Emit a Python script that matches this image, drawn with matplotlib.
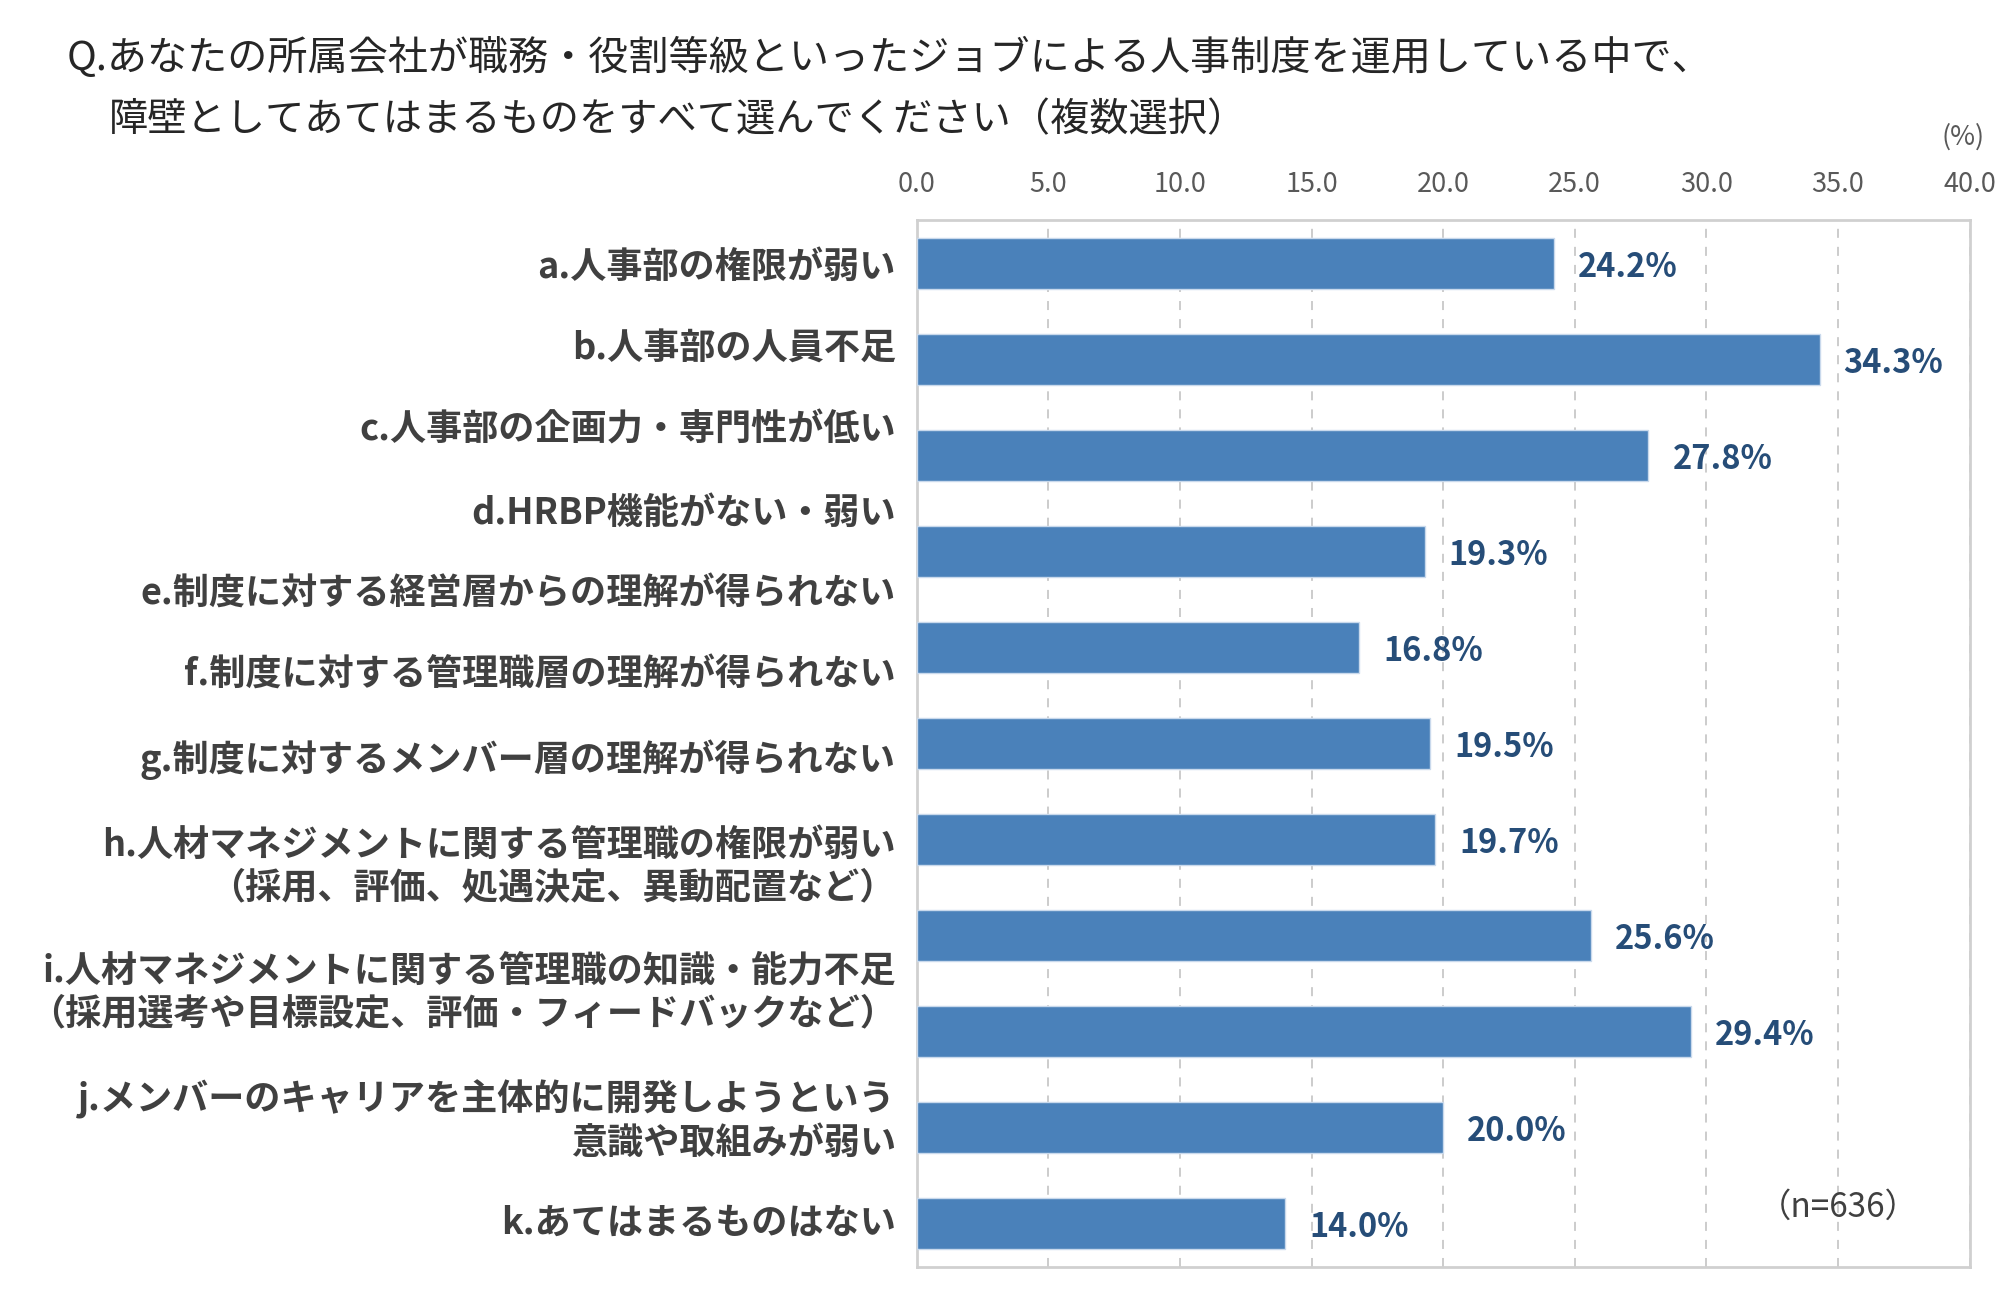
import matplotlib
matplotlib.use("Agg")
import matplotlib.pyplot as plt

plt.rcParams['font.family'] = ['Noto Sans CJK JP', 'DejaVu Sans']

# data
categories = [
    "a.人事部の権限が弱い",
    "b.人事部の人員不足",
    "c.人事部の企画力・専門性が低い",
    "d.HRBP機能がない・弱い",
    "e.制度に対する経営層からの理解が得られない",
    "f.制度に対する管理職層の理解が得られない",
    "g.制度に対するメンバー層の理解が得られない",
    "h.人材マネジメントに関する管理職の権限が弱い\n（採用、評価、処遇決定、異動配置など）",
    "i.人材マネジメントに関する管理職の知識・能力不足\n（採用選考や目標設定、評価・フィードバックなど）",
    "j.メンバーのキャリアを主体的に開発しようという\n意識や取組みが弱い",
    "k.あてはまるものはない",
]
values = [24.2, 34.3, 27.8, 19.3, 16.8, 19.5, 19.7, 25.6, 29.4, 20.0, 14.0]
# category labels in the source drift away from their bars
label_pos = [0.0, 0.85, 1.69, 2.56, 3.41, 4.25, 5.12, 6.21, 7.52, 8.86, 9.96]
xticks = [0, 5, 10, 15, 20, 25, 30, 35, 40]

bar_color = "#4a81ba"
value_color = "#264d78"
text_color = "#404040"

fig = plt.figure(figsize=(20.09, 13.13), dpi=100)
ax = fig.add_axes([0.4563, 0.0354, 0.5241, 0.797])

ypos = list(range(len(values)))
ax.barh(ypos, values, height=0.53, color=bar_color, edgecolor="#c9d9ec", linewidth=1, zorder=3)

# value labels
for y, v in zip(ypos, values):
    ax.annotate(f"{v:.1f}%", xy=(v, y), xytext=(24, -4), textcoords="offset pixels",
                ha="left", va="center", fontsize=23.5, fontweight="bold", color=value_color)

ax.set_xlim(0, 40)
ax.set_ylim(10.45, -0.45)
ax.xaxis.tick_top()
ax.set_xticks(xticks)
ax.set_xticklabels([f"{t:.1f}" for t in xticks], fontsize=19.5, color="#595959")
ax.tick_params(axis="x", length=0, pad=16)

ax.set_yticks(label_pos)
ax.set_yticklabels(categories, fontsize=26, fontweight="bold", color=text_color)
ax.tick_params(axis="y", length=0, pad=15)

ax.grid(axis="x", linestyle=(0, (5, 5)), color="#c8c8c8", linewidth=1.3, zorder=0)
for s in ax.spines.values():
    s.set_color("#d0d0d0")
    s.set_linewidth(2)

# title
fig.text(67 / 2009, 1 - 58 / 1313, "Q.あなたの所属会社が職務・役割等級といったジョブによる人事制度を運用している中で、",
         fontsize=28.9, color="#262626", ha="left", va="center")
fig.text(109 / 2009, 1 - 120 / 1313, "障壁としてあてはまるものをすべて選んでください（複数選択）",
         fontsize=28.3, color="#262626", ha="left", va="center")

fig.text(1963 / 2009, 1 - 137 / 1313, "(%)", fontsize=19.5, color="#595959", ha="center", va="center")
ax.text(0.952, 0.057, "（n=636）", transform=ax.transAxes, fontsize=24, color=text_color,
        ha="right", va="center")

fig.savefig("out.png", dpi=100)
